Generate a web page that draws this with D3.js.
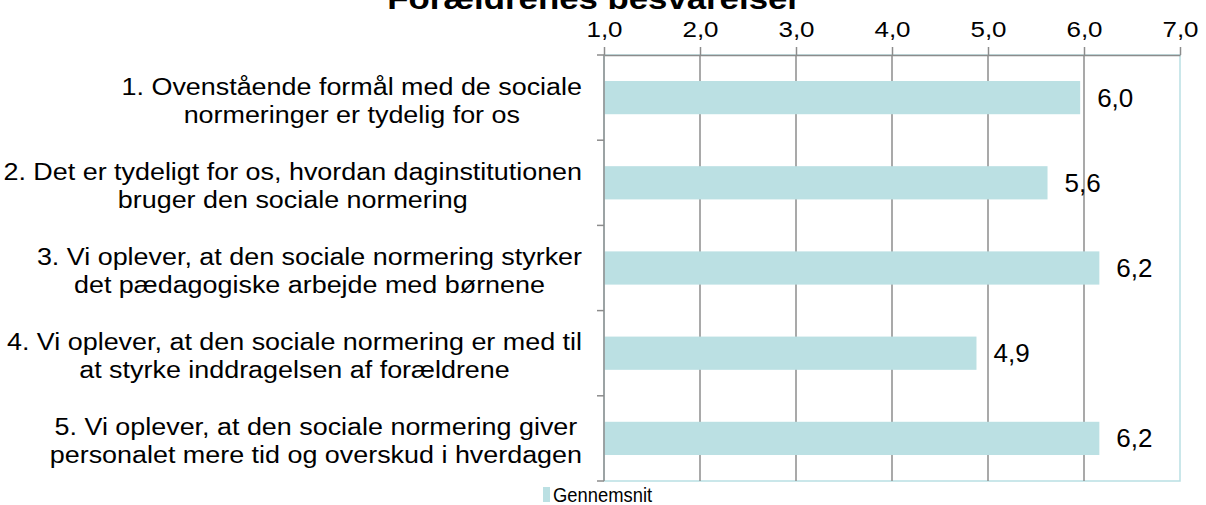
<!DOCTYPE html>
<html>
<head>
<meta charset="utf-8">
<script src="https://cdn.jsdelivr.net/npm/d3@7"></script>
<style>
  body { margin: 0; background: #fff; }
  svg { display: block; font-family: "Liberation Sans", Arial, sans-serif; }
</style>
</head>
<body>
<div id="root"></div>
<script>
// chart data
const chartTitle = "Forældrenes besvarelser";
const categories = [
  "1. Ovenstående formål med de sociale\nnormeringer er tydelig for os",
  "2. Det er tydeligt for os, hvordan daginstitutionen\nbruger den sociale normering",
  "3. Vi oplever, at den sociale normering styrker\ndet pædagogiske arbejde med børnene",
  "4. Vi oplever, at den sociale normering er med til\nat styrke inddragelsen af forældrene",
  "5. Vi oplever, at den sociale normering giver\npersonalet mere tid og overskud i hverdagen"
];
const averages = [5.96, 5.62, 6.16, 4.88, 6.16];
const xTicks = [1, 2, 3, 4, 5, 6, 7];
const seriesName = "Gennemsnit";

const width = 1206;
const height = 505;
const plot = { left: 604, right: 1180, top: 55, bottom: 481 };

const barColor = "#bbe0e3";
const gridColor = "#8c8c8c";
const frameColor = "#b9dfe3";

// the original picture is stretched sideways, so text gets a horizontal scale
const stretch = (sx) => `scale(${sx}, 1)`;

const commaFormat = (d) => d3.format(".1f")(d).replace(".", ",");

const svg = d3
  .select("#root")
  .append("svg")
  .attr("width", width)
  .attr("height", height);

const xScale = d3.scaleLinear().domain([1, 7]).range([plot.left, plot.right]);
const yScale = d3
  .scaleBand()
  .domain(categories)
  .range([plot.top, plot.bottom])
  .paddingInner(0.61)
  .paddingOuter(0.305);

// frame: right and bottom in light blue
svg
  .append("rect")
  .attr("x", plot.left)
  .attr("y", plot.top)
  .attr("width", plot.right - plot.left)
  .attr("height", plot.bottom - plot.top)
  .attr("fill", "none")
  .attr("stroke", frameColor)
  .attr("stroke-width", 1.5);

// vertical gridlines
svg
  .append("g")
  .selectAll("line")
  .data(xTicks.slice(1, -1))
  .join("line")
  .attr("x1", (d) => xScale(d))
  .attr("x2", (d) => xScale(d))
  .attr("y1", plot.top)
  .attr("y2", plot.bottom)
  .attr("stroke", gridColor)
  .attr("stroke-width", 1.5);

// bars
svg
  .append("g")
  .selectAll("rect")
  .data(averages)
  .join("rect")
  .attr("x", xScale(1))
  .attr("y", (d, i) => yScale(categories[i]))
  .attr("width", (d) => xScale(d) - xScale(1))
  .attr("height", yScale.bandwidth())
  .attr("fill", barColor);

// top axis
const xAxis = d3
  .axisTop(xScale)
  .tickValues(xTicks)
  .tickSize(8)
  .tickSizeOuter(0)
  .tickPadding(10)
  .tickFormat(commaFormat);

const xAxisArea = svg
  .append("g")
  .attr("transform", `translate(0, ${plot.top})`)
  .call(xAxis)
  .attr("font-family", "inherit")
  .attr("font-size", 22);
xAxisArea.selectAll("path, line").attr("stroke", gridColor).attr("stroke-width", 1.5);
xAxisArea.selectAll("text").attr("fill", "#000").attr("transform", stretch(1.18));

// left axis with ticks between categories
const step = yScale.step();
const boundaries = d3.range(categories.length + 1).map((i) => plot.top + i * step);
const yAxisArea = svg.append("g");
yAxisArea
  .append("line")
  .attr("x1", plot.left)
  .attr("x2", plot.left)
  .attr("y1", plot.top)
  .attr("y2", plot.bottom)
  .attr("stroke", gridColor)
  .attr("stroke-width", 1.5);
yAxisArea
  .selectAll(".tick")
  .data(boundaries)
  .join("line")
  .attr("class", "tick")
  .attr("x1", plot.left - 7)
  .attr("x2", plot.left)
  .attr("y1", (d) => d)
  .attr("y2", (d) => d)
  .attr("stroke", gridColor)
  .attr("stroke-width", 1.5);

// category labels: block right-aligned, lines centred within block
const lineHeight = 28;
const labelRight = 582;
categories.forEach((cat) => {
  const lines = cat.split("\n");
  const cy = yScale(cat) + yScale.bandwidth() / 2 + 3;
  const label = svg
    .append("text")
    .attr("font-size", 23)
    .attr("text-anchor", "middle")
    .attr("fill", "#000")
    .attr("transform", `translate(${labelRight}, ${cy}) ${stretch(1.17)}`);
  const spans = label
    .selectAll("tspan")
    .data(lines)
    .join("tspan")
    .attr("y", (d, i) => (i - (lines.length - 1) / 2) * lineHeight)
    .attr("dy", "0.35em")
    .text((d) => d);
  const maxW = d3.max(spans.nodes(), (n) => n.getComputedTextLength());
  spans.attr("x", -maxW / 2);
});

// value labels
svg
  .append("g")
  .selectAll("text")
  .data(averages)
  .join("text")
  .attr(
    "transform",
    (d, i) =>
      `translate(${xScale(d) + 17}, ${yScale(categories[i]) + yScale.bandwidth() / 2}) ${stretch(1.04)}`
  )
  .attr("dy", "0.36em")
  .attr("font-size", 25)
  .attr("fill", "#000")
  .text(commaFormat);

// title (cut by the top edge)
svg
  .append("text")
  .attr("transform", `translate(594, 9) ${stretch(1.16)}`)
  .attr("text-anchor", "middle")
  .attr("font-size", 30)
  .attr("font-weight", "bold")
  .attr("fill", "#000")
  .text(chartTitle);

// legend
const legend = svg.append("g").attr("transform", "translate(543, 487)");
legend
  .append("rect")
  .attr("width", 7)
  .attr("height", 15)
  .attr("fill", barColor);
legend
  .append("text")
  .attr("transform", `translate(10, 15) ${stretch(0.92)}`)
  .attr("font-size", 20)
  .attr("fill", "#000")
  .text(seriesName);
</script>
</body>
</html>
